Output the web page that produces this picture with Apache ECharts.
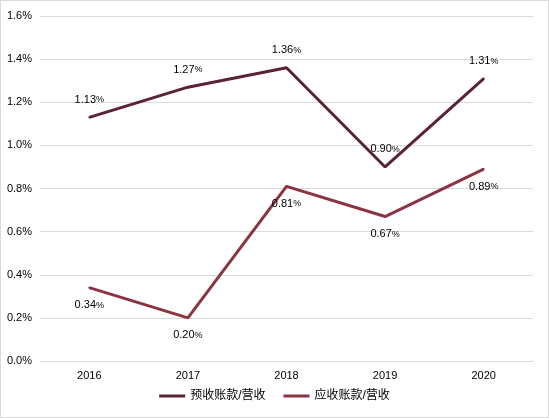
<!DOCTYPE html>
<html lang="zh">
<head>
    <meta charset="UTF-8">
    <title>预收账款/营收 与 应收账款/营收</title>
    <script src="https://cdn.jsdelivr.net/npm/echarts/dist/echarts.min.js"></script>
    <style>
        html, body { margin: 0; padding: 0; background: #fff; }
        #main {
            width: 549px;
            height: 418px;
            box-sizing: border-box;
            border: 1px solid #d9d9d9;
            background-color: white;
        }
    </style>
</head>
<body>
    <div id="main"></div>
    <script>
        // 数据
        var years = ['2016', '2017', '2018', '2019', '2020'];
        var advanceRatio = [1.13, 1.27, 1.36, 0.90, 1.31];   // 预收账款/营收 (%)
        var receivableRatio = [0.34, 0.20, 0.81, 0.67, 0.89]; // 应收账款/营收 (%)
        var yTicks = [0, 0.2, 0.4, 0.6, 0.8, 1.0, 1.2, 1.4, 1.6];

        var fontFamily = '"Liberation Sans", Arial, "Noto Sans CJK SC", sans-serif';

        function pctLabel(pos) {
            return {
                show: true,
                position: pos,
                distance: 11,
                formatter: function (p) {
                    return '{n|' + p.value.toFixed(2) + '}{p|%}';
                },
                rich: {
                    n: { fontSize: 11, color: '#000', fontFamily: fontFamily },
                    p: { fontSize: 9, color: '#000', fontFamily: fontFamily }
                }
            };
        }

        var chart = echarts.init(document.getElementById('main'));
        var option = {
            animation: false,
            textStyle: { fontFamily: fontFamily },
            grid: {
                left: 39,
                right: 15,
                top: 15,
                bottom: 56
            },
            legend: {
                bottom: 10,
                left: 'center',
                itemWidth: 26,
                itemHeight: 3,
                itemGap: 18,
                icon: 'rect',
                textStyle: { fontSize: 12, color: '#000', fontFamily: fontFamily },
                data: ['预收账款/营收', '应收账款/营收']
            },
            xAxis: {
                type: 'category',
                data: years,
                boundaryGap: true,
                axisLine: { lineStyle: { color: '#d9d9d9' } },
                axisTick: { show: false },
                axisLabel: { color: '#000', fontSize: 11, margin: 9 }
            },
            yAxis: {
                type: 'value',
                min: yTicks[0],
                max: yTicks[yTicks.length - 1],
                interval: 0.2,
                axisLine: { show: false },
                axisTick: { show: false },
                splitLine: { lineStyle: { color: '#d9d9d9' } },
                axisLabel: {
                    color: '#000',
                    fontSize: 11,
                    margin: 8,
                    formatter: function (v) { return v.toFixed(1) + '%'; }
                }
            },
            series: [
                {
                    name: '预收账款/营收',
                    type: 'line',
                    data: advanceRatio,
                    showSymbol: true,
                    symbol: 'circle',
                    symbolSize: 2,
                    itemStyle: { color: '#5a2232' },
                    lineStyle: { width: 3, color: '#5a2232' },
                    label: pctLabel('top')
                },
                {
                    name: '应收账款/营收',
                    type: 'line',
                    data: receivableRatio,
                    showSymbol: true,
                    symbol: 'circle',
                    symbolSize: 2,
                    itemStyle: { color: '#8b3340' },
                    lineStyle: { width: 3, color: '#8b3340' },
                    label: pctLabel('bottom')
                }
            ]
        };

        chart.setOption(option);
    </script>
</body>
</html>
